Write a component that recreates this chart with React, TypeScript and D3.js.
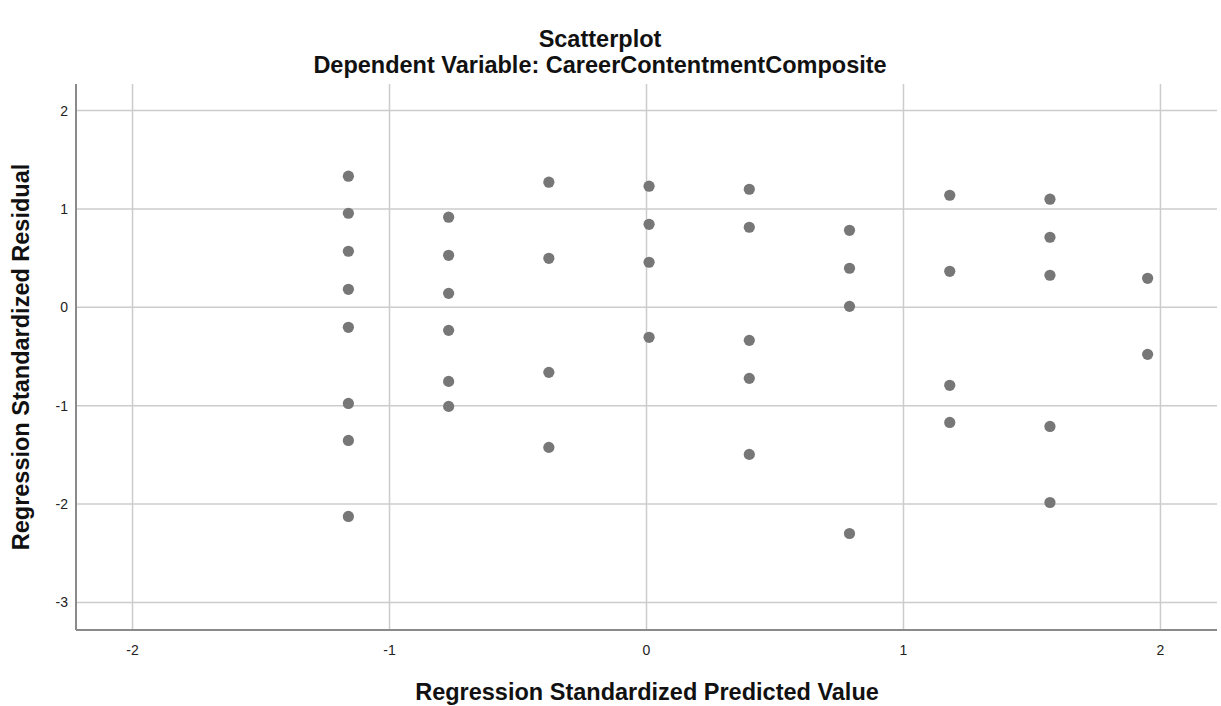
import React from "react";
import * as d3 from "d3";

const xTicks = [-2, -1, 0, 1, 2];
const yTicks = [2, 1, 0, -1, -2, -3];

const predicted = [
  -1.16, -1.16, -1.16, -1.16, -1.16, -1.16, -1.16, -1.16,
  -0.77, -0.77, -0.77, -0.77, -0.77, -0.77,
  -0.38, -0.38, -0.38, -0.38,
  0.01, 0.01, 0.01, 0.01,
  0.40, 0.40, 0.40, 0.40, 0.40,
  0.79, 0.79, 0.79, 0.79,
  1.18, 1.18, 1.18, 1.18,
  1.57, 1.57, 1.57, 1.57, 1.57,
  1.95, 1.95,
];
const residual = [
  1.333, 0.956, 0.570, 0.183, -0.203, -0.977, -1.353, -2.126,
  0.916, 0.529, 0.142, -0.234, -0.753, -1.007,
  1.272, 0.498, -0.661, -1.424,
  1.231, 0.844, 0.458, -0.305,
  1.200, 0.814, -0.336, -0.722, -1.495,
  0.783, 0.397, 0.010, -2.299,
  1.139, 0.366, -0.793, -1.170,
  1.099, 0.712, 0.326, -1.211, -1.984,
  0.295, -0.478,
];

const W = 1221;
const H = 706;
const left = 76;
const right = 1217;
const top = 84;
const bottom = 630;

export default function App() {
  const x = d3.scaleLinear().domain([-2.22, 2.22]).range([left, right]);
  const y = d3.scaleLinear().domain([-3.28, 2.27]).range([bottom, top]);
  const font = "'Liberation Sans', Arial, sans-serif";
  const grid = "#cccccc";
  return (
    <svg
      width={W}
      height={H}
      style={{ position: "absolute", left: 0, top: 0, background: "#fff" }}
    >
      <rect x={0} y={0} width={W} height={H} fill="#fff" />
      {xTicks.map((t) => (
        <line key={"gx" + t} x1={x(t)} x2={x(t)} y1={top} y2={bottom} stroke={grid} strokeWidth={1.5} />
      ))}
      {yTicks.map((t) => (
        <line key={"gy" + t} x1={left} x2={right} y1={y(t)} y2={y(t)} stroke={grid} strokeWidth={1.5} />
      ))}
      <line x1={left} x2={left} y1={top} y2={bottom} stroke="#8a8a8a" strokeWidth={2} />
      <line x1={left} x2={right} y1={bottom} y2={bottom} stroke="#8a8a8a" strokeWidth={2} />
      {xTicks.map((t) => (
        <text key={"tx" + t} x={x(t)} y={655} textAnchor="middle" fontFamily={font} fontSize={14} fill="#222">
          {t}
        </text>
      ))}
      {yTicks.map((t) => (
        <text key={"ty" + t} x={68} y={y(t) + 5} textAnchor="end" fontFamily={font} fontSize={14} fill="#222">
          {t}
        </text>
      ))}
      {predicted.map((p, i) => (
        <circle key={"p" + i} cx={x(p)} cy={y(residual[i])} r={5.6} fill="#777777" />
      ))}
      <text x={600} y={47} textAnchor="middle" fontFamily={font} fontWeight="bold" fontSize={23.5} fill="#111">
        Scatterplot
      </text>
      <text x={600} y={73} textAnchor="middle" fontFamily={font} fontWeight="bold" fontSize={23.5} fill="#111">
        Dependent Variable: CareerContentmentComposite
      </text>
      <text x={647} y={700} textAnchor="middle" fontFamily={font} fontWeight="bold" fontSize={23.5} fill="#111">
        Regression Standardized Predicted Value
      </text>
      <text
        transform={`translate(29, 357) rotate(-90)`}
        textAnchor="middle"
        fontFamily={font}
        fontWeight="bold"
        fontSize={23.5}
        fill="#111"
      >
        Regression Standardized Residual
      </text>
    </svg>
  );
}
